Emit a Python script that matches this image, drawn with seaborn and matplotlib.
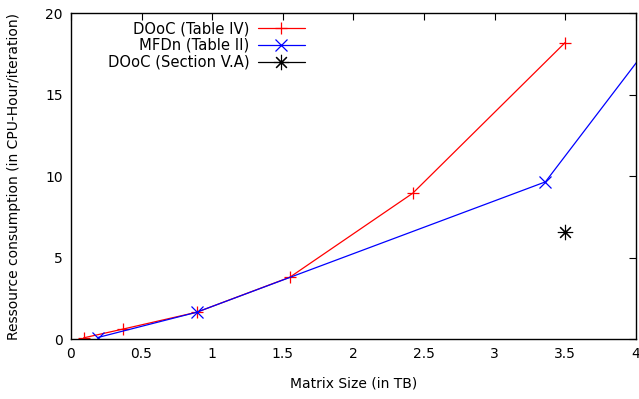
import matplotlib
matplotlib.use('Agg')
import matplotlib.pyplot as plt
import seaborn as sns
import pandas as pd

# values
dooc_t4_size = [0.09, 0.37, 0.89, 1.55, 2.42, 3.50]
dooc_t4_cpu = [0.08, 0.62, 1.65, 3.8, 8.95, 18.2]

mfdn_size = [0.19, 0.89, 3.36, 4.5]  # last point is outside the visible range (clipped)
mfdn_cpu = [0.1, 1.65, 9.65, 22.6]

dooc_v_size = [3.50]
dooc_v_cpu = [6.55]

x_ticks = [0, 0.5, 1, 1.5, 2, 2.5, 3, 3.5, 4]
x_tick_labels = ['0', '0.5', '1', '1.5', '2', '2.5', '3', '3.5', '4']
y_ticks = [0, 5, 10, 15, 20]

sns.set_style('white')
plt.rcParams['font.family'] = ['DejaVu Sans']
plt.rcParams['font.size'] = 10
plt.rcParams['text.color'] = 'black'
plt.rcParams['axes.labelcolor'] = 'black'

fig = plt.figure(figsize=(6.39, 3.99), dpi=100)
ax = fig.add_axes([0.111, 0.150, 0.884, 0.817])

df1 = pd.DataFrame({'size': dooc_t4_size, 'cpu': dooc_t4_cpu})
df2 = pd.DataFrame({'size': mfdn_size, 'cpu': mfdn_cpu})
df3 = pd.DataFrame({'size': dooc_v_size, 'cpu': dooc_v_cpu})

sns.lineplot(data=df1, x='size', y='cpu', ax=ax, color='#ff0000', lw=0.9,
             marker='+', markersize=9, markeredgewidth=0.9,
             markeredgecolor='#ff0000', label='DOoC (Table IV)')
sns.lineplot(data=df2, x='size', y='cpu', ax=ax, color='#0000ff', lw=0.9,
             marker='x', markersize=8, markeredgewidth=0.9,
             markeredgecolor='#0000ff', label='MFDn (Table II)')
sns.lineplot(data=df3, x='size', y='cpu', ax=ax, color='black', lw=0.9,
             marker=(8, 2, 0), markersize=11, markeredgewidth=0.8,
             markeredgecolor='black', label='DOoC (Section V.A)')

ax.set_xlim(0, 4)
ax.set_ylim(0, 20)
ax.set_xticks(x_ticks)
ax.set_xticklabels(x_tick_labels)
ax.set_yticks(y_ticks)
ax.tick_params(direction='in', length=5, width=0.8, top=True, right=True,
               labelsize=10, pad=6, colors='black')
for s in ax.spines.values():
    s.set_color('black')
    s.set_linewidth(1.0)

ax.set_xlabel('Matrix Size (in TB)', fontsize=10, labelpad=11, color='black')
ax.set_ylabel('Ressource consumption (in CPU-Hour/iteration)', fontsize=10,
              labelpad=17, color='black')

leg = ax.legend(loc='upper right', bbox_to_anchor=(0.427, 0.998), frameon=False,
                markerfirst=False, handlelength=3.2, handletextpad=0.55,
                labelspacing=0.12, borderpad=0, fontsize=10.6, labelcolor='black')

fig.savefig('out.png', dpi=100)
